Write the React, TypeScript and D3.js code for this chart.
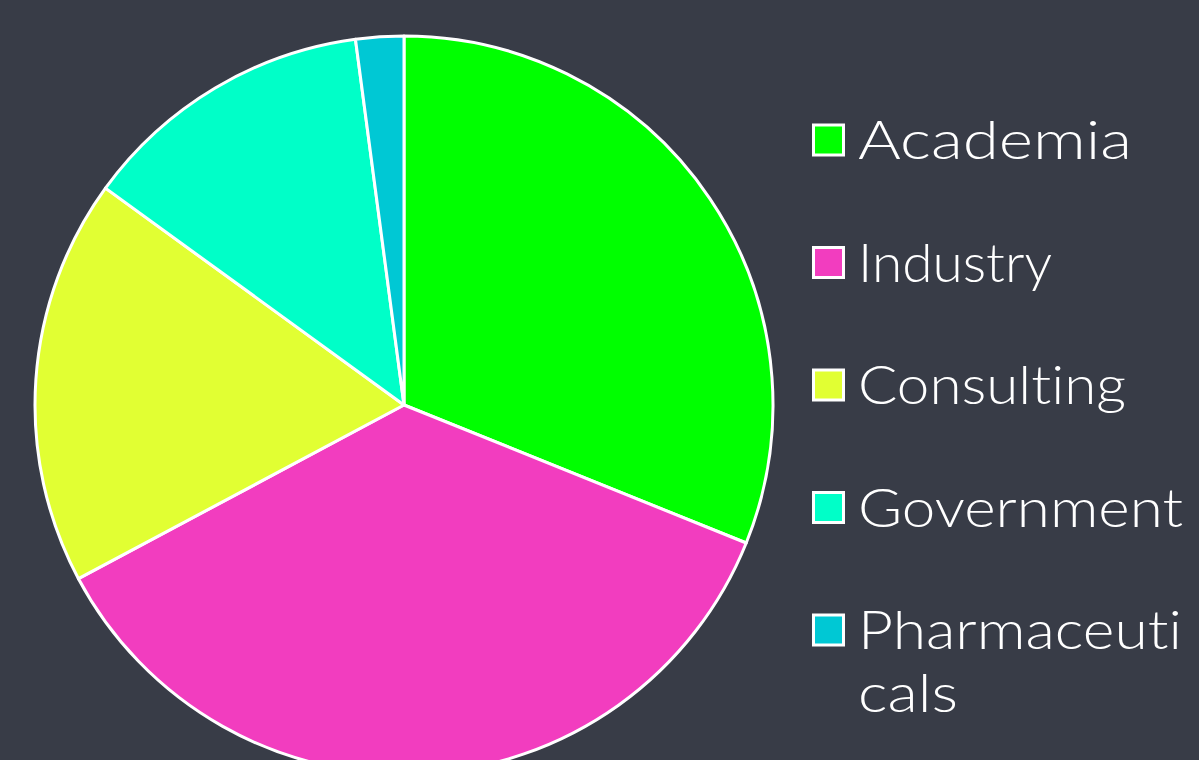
import React from "react";
import * as d3 from "d3";

const categories = ["Academia", "Industry", "Consulting", "Government", "Pharmaceuticals"];
const values = [31.1, 36.1, 17.8, 12.9, 2.1];
const colors = ["#00ff00", "#f23dbf", "#e1ff33", "#00ffc8", "#00c8d4"];
const legendLines = [["Academia"], ["Industry"], ["Consulting"], ["Government"], ["Pharmaceuti", "cals"]];
const legendWidths = [[274], [194], [268], [325], [324, 100]];

const W = 1199;
const H = 760;

export default function App() {
  const cx = 404;
  const cy = 405;
  const r = 369;
  const pie = d3.pie<number>().sort(null).value((d) => d)(values);
  const arc = d3.arc<d3.PieArcDatum<number>>().innerRadius(0).outerRadius(r);
  const rowY = d3.scalePoint<string>().domain(categories).range([140, 630]);
  return (
    <svg
      width={W}
      height={H}
      style={{ position: "absolute", left: 0, top: 0, background: "#383c47" }}
    >
      <rect x={0} y={0} width={W} height={H} fill="#383c47" />
      <g transform={`translate(${cx},${cy})`}>
        {pie.map((p, i) => (
          <path key={i} d={arc(p) || ""} fill={colors[i]} stroke="#ffffff" strokeWidth={3} strokeLinejoin="round" />
        ))}
      </g>
      {categories.map((c, i) => {
        const y = rowY(c) as number;
        return (
          <g key={c}>
            <rect x={813.5} y={y - 15} width={30} height={30} fill={colors[i]} stroke="#ffffff" strokeWidth={3} />
            {legendLines[i].map((t, j) => (
              <text
                key={j}
                x={858}
                y={y + j * 63}
                dy="0.36em"
                fill="#ffffff"
                fontFamily="Lato, 'Open Sans', sans-serif"
                fontWeight={300}
                fontSize={53}
                textLength={legendWidths[i][j]}
                lengthAdjust="spacingAndGlyphs"
                style={{ fontVariantLigatures: "none", fontFeatureSettings: "'liga' 0, 'clig' 0" }}
              >
                {t}
              </text>
            ))}
          </g>
        );
      })}
    </svg>
  );
}
